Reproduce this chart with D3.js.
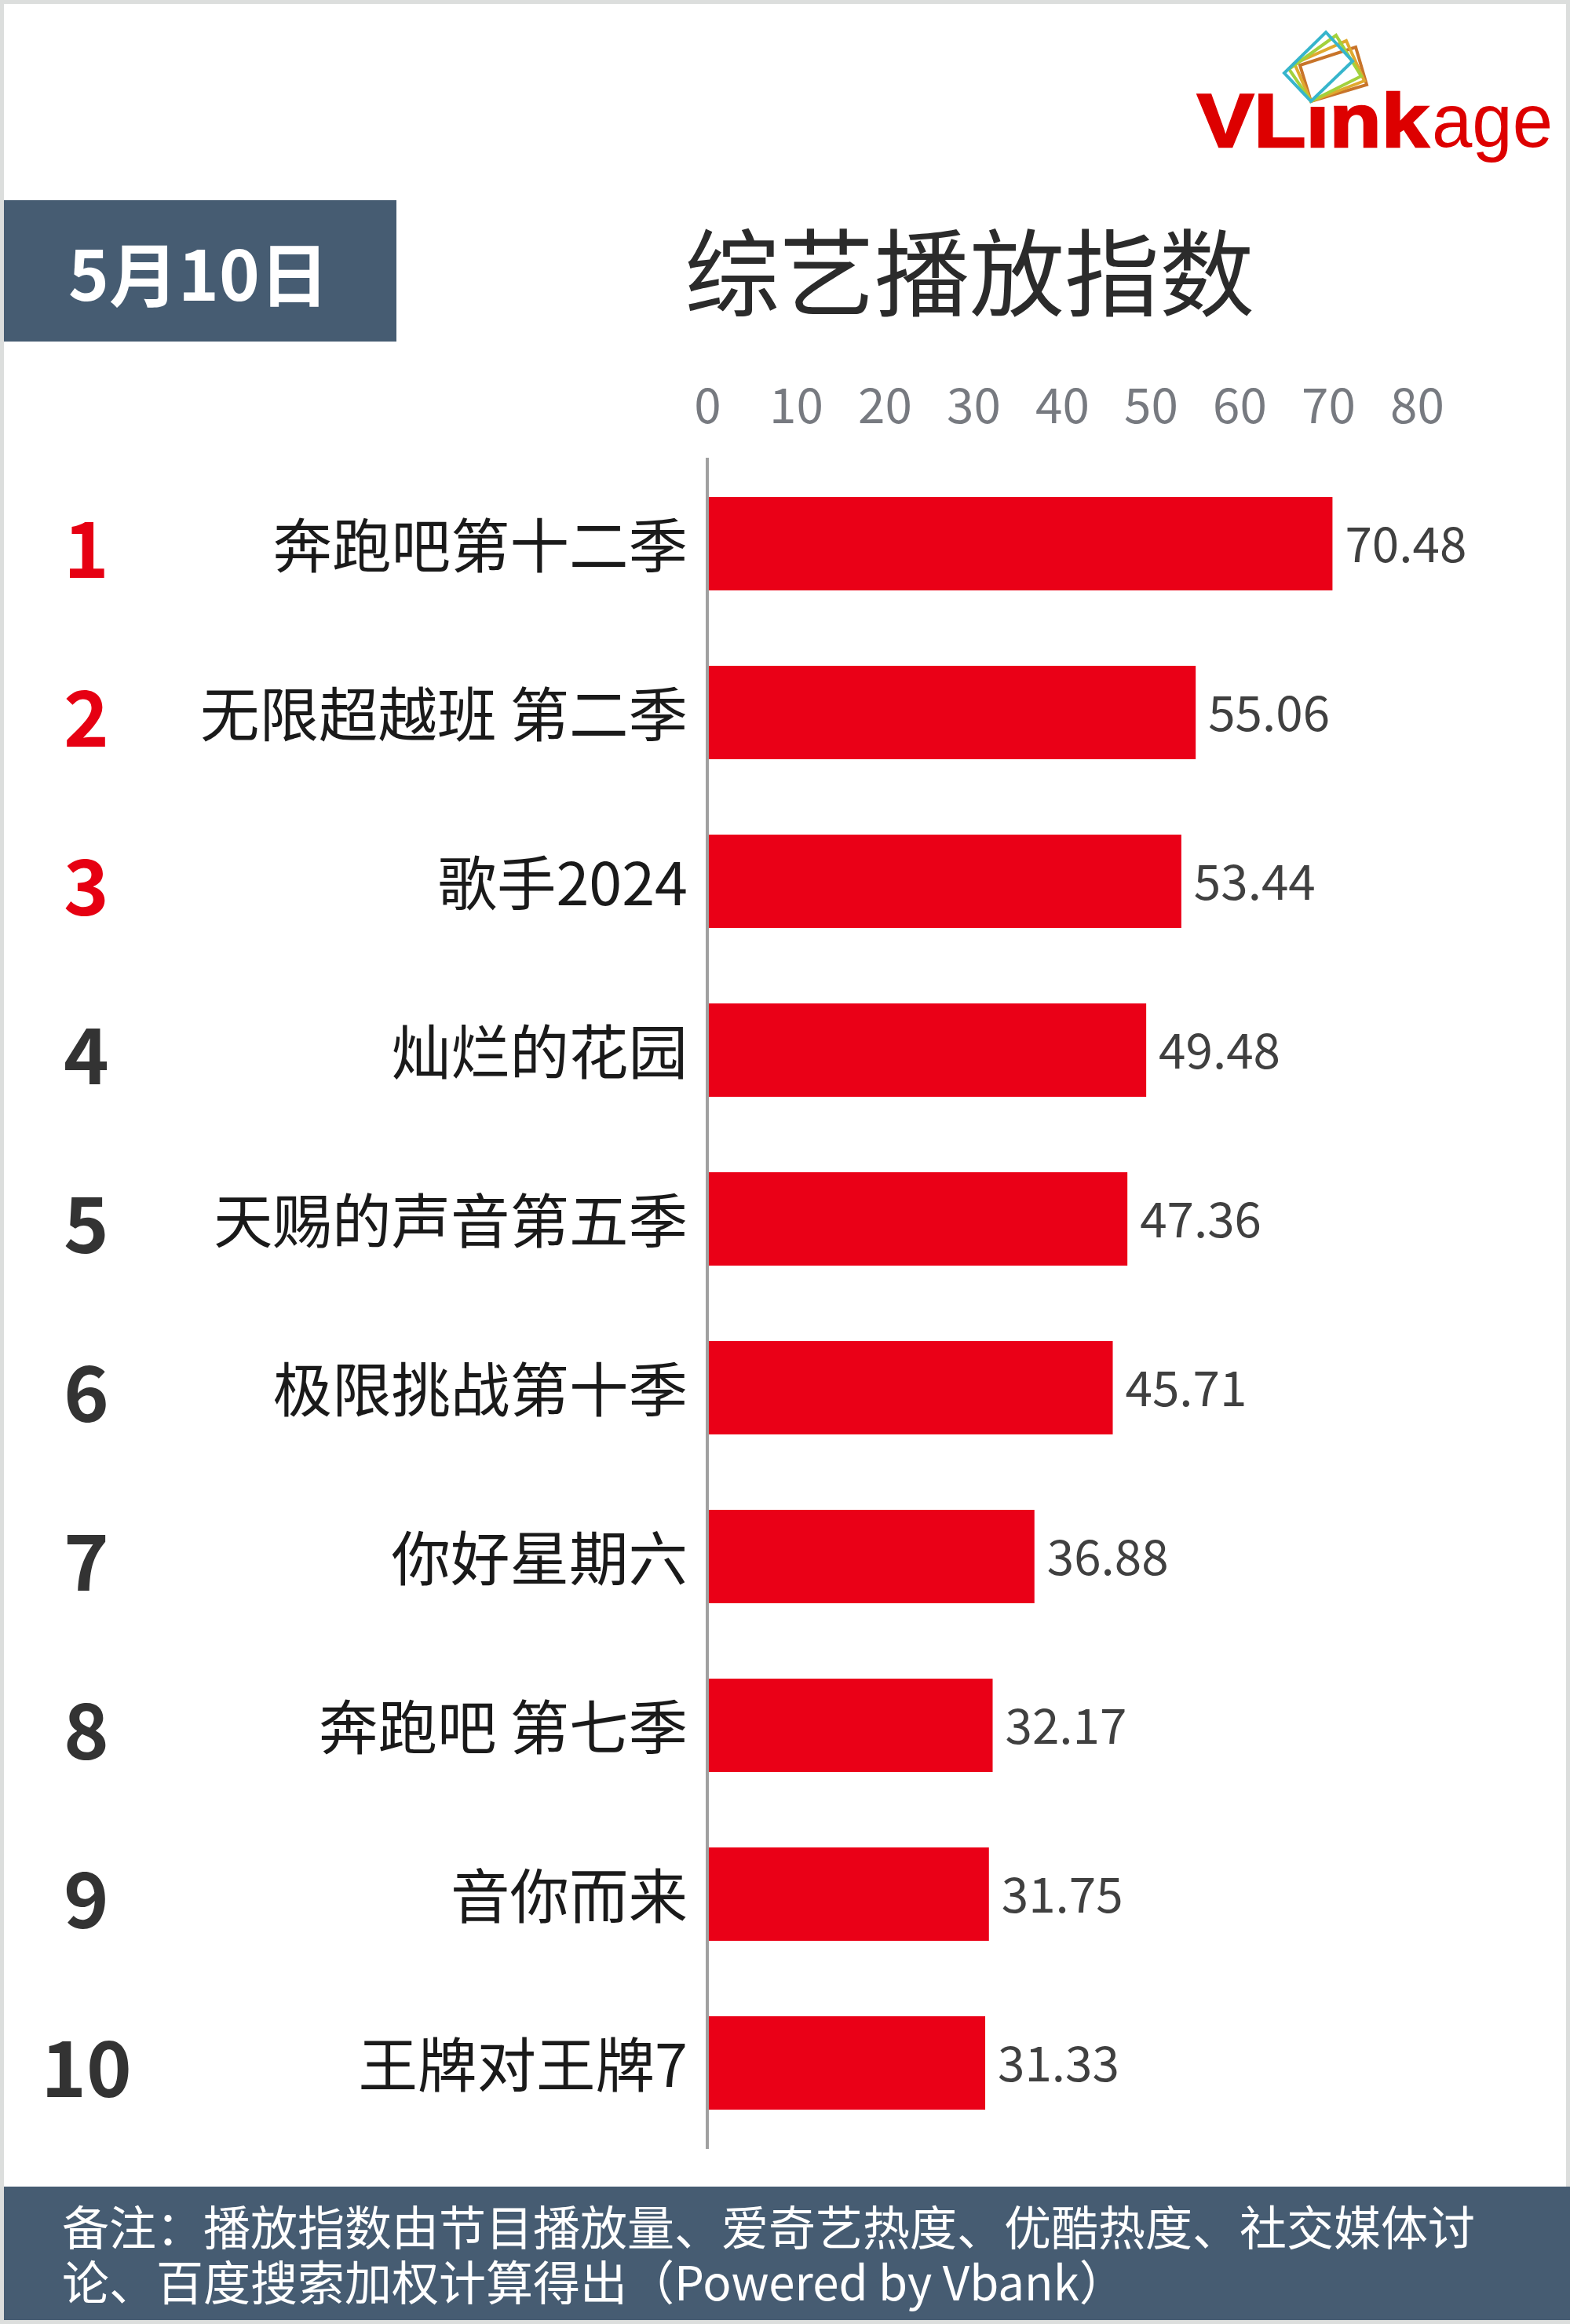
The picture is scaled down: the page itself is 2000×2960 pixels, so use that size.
<!DOCTYPE html>
<html><head><meta charset="utf-8">
<script src="https://cdn.jsdelivr.net/npm/d3@7"></script>
<style>html,body{margin:0;padding:0;background:#fff}svg{display:block}text{font-family:"Noto Sans CJK SC","Noto Sans",sans-serif}</style>
</head><body><div id="c"></div>
<script>
const categories=["奔跑吧第十二季","无限超越班 第二季","歌手2024","灿烂的花园","天赐的声音第五季","极限挑战第十季","你好星期六","奔跑吧 第七季","音你而来","王牌对王牌7"];
const ranks=[1,2,3,4,5,6,7,8,9,10];
const values=[70.48,55.06,53.44,49.48,47.36,45.71,36.88,32.17,31.75,31.33];
const tickValues=[0,10,20,30,40,50,60,70,80];
const noteLines=["备注\uff1a播放指数由节目播放量、爱奇艺热度、优酷热度、社交媒体讨","论、百度搜索加权计算得出\uff08Powered by Vbank\uff09"];
const W=2000,H=2960;
const svg=d3.select("#c").append("svg").attr("width",W).attr("height",H).attr("viewBox",[0,0,W,H]);
const slate="#465c72",red="#ea0017";
svg.append("rect").attr("width",W).attr("height",H).attr("fill","#dcdedd");
svg.append("rect").attr("x",5).attr("y",5).attr("width",1990).attr("height",2950).attr("fill","#fff");

// scales
const x=d3.scaleLinear().domain([0,80]).range([901,1805]);
const y=d3.scaleBand().domain(categories).range([585,2735]).paddingInner(.447).paddingOuter(.2235);

// header
svg.append("rect").attr("x",5).attr("y",255).attr("width",500).attr("height",180).attr("fill",slate);
svg.append("text").attr("x",253).attr("y",383).attr("text-anchor","middle").attr("font-size",88).attr("font-weight",700).attr("fill","#fff").text("5月10日");
svg.append("text").attr("x",1235).attr("y",393).attr("text-anchor","middle").attr("font-size",121).attr("fill","#2b2b2b").text("综艺播放指数");

// logo
const logoRects=[
 {c:"#c8742a",p:[[1727,60],[1741,108],[1670,129],[1656,83]]},
 {c:"#e0a92e",p:[[1715,52],[1738,103],[1670,129],[1649,81]]},
 {c:"#a3d13c",p:[[1702,45],[1734,97],[1670,129],[1642,88]]},
 {c:"#36b5cc",p:[[1689,41],[1723,78],[1670,129],[1636,93]]}];
const logoT=svg.append("g");
logoT.append("text").attr("x",1525).attr("y",187).attr("fill","#dd0000").attr("stroke","#dd0000").attr("stroke-width",2.5).attr("font-size",96).attr("font-weight",700).attr("textLength",295).attr("lengthAdjust","spacingAndGlyphs").style("font-family",'"Liberation Sans",sans-serif').text("VLink");
logoT.append("text").attr("x",1824).attr("y",187).attr("fill","#dd0000").attr("font-size",96).attr("textLength",154).attr("lengthAdjust","spacingAndGlyphs").style("font-family",'"Liberation Sans",sans-serif').text("age");
logoT.append("rect").attr("x",1660).attr("y",112).attr("width",34).attr("height",24).attr("fill","#fff");
svg.append("g").selectAll("polygon").data(logoRects).join("polygon")
 .attr("points",d=>d.p.join(" ")).attr("fill","none").attr("stroke",d=>d.c).attr("stroke-width",4);

// top axis
const ax=svg.append("g").attr("transform","translate(0,539)").call(d3.axisTop(x).tickValues(tickValues).tickSize(0).tickPadding(0));
ax.select(".domain").remove();
ax.selectAll("text").attr("font-size",62).attr("fill","#777a80").attr("font-family",null).style("font-family",'"Noto Sans CJK SC"');

// bars
svg.append("g").selectAll("rect").data(values).join("rect")
 .attr("x",x(0)).attr("y",(d,i)=>y(categories[i])).attr("height",y.bandwidth())
 .attr("width",d=>x(d)-x(0)).attr("fill",red);

// category axis
const ay=svg.append("g").attr("transform",`translate(${x(0)},0)`).call(d3.axisLeft(y).tickSize(0).tickPadding(25));
ay.select(".domain").remove();
ay.append("line").attr("x1",0).attr("x2",0).attr("y1",583).attr("y2",2737).attr("stroke","#a0a0a0").attr("stroke-width",4);
ay.selectAll("text").attr("font-size",75.5).attr("fill","#1a1a1a").attr("dy","0.40em").attr("font-family",null).style("font-family",'"Noto Sans CJK SC"');

// value labels
svg.append("g").selectAll("text").data(values).join("text")
 .attr("x",d=>x(d)+16).attr("y",(d,i)=>y(categories[i])+y.bandwidth()/2).attr("dy","0.38em")
 .attr("font-size",62).attr("fill","#404040").text(d=>d.toFixed(2));

// ranks
svg.append("g").selectAll("text").data(ranks).join("text")
 .attr("x",110).attr("y",(d,i)=>y(categories[i])+y.bandwidth()/2).attr("dy","0.44em")
 .attr("text-anchor","middle").attr("font-size",98).attr("font-weight",700)
 .attr("fill",(d,i)=>i<3?"#e60012":"#333").text(d=>d);

// footer
svg.append("rect").attr("x",5).attr("y",2785).attr("width",1995).attr("height",170).attr("fill",slate);
svg.append("g").selectAll("text").data(noteLines).join("text")
 .attr("x",79).attr("y",(d,i)=>2860+i*70).attr("font-size",60).attr("fill","#fff").text(d=>d);
</script></body></html>
